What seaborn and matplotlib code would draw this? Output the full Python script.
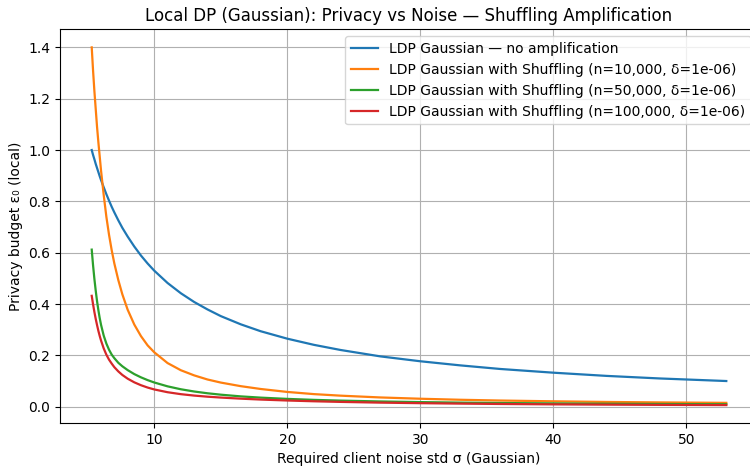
import matplotlib
matplotlib.use("Agg")
import matplotlib.pyplot as plt
import seaborn as sns
import pandas as pd

# Client noise std (shared grid for all curves)
sigma = [5.3, 5.4, 5.5, 5.6, 5.7, 5.8, 5.9, 6.0, 6.2, 6.4, 6.6, 6.8, 7.0, 7.3, 7.6,
         8.0, 8.5, 9.0, 9.5, 10.0, 11.0, 12.0, 13.0, 14.0, 15.0, 16.5, 18.0, 20.0,
         22.0, 24.0, 27.0, 30.0, 33.0, 36.0, 40.0, 44.0, 48.0, 53.0]

# Local epsilon, no amplification
eps_plain = [1.0, 0.981, 0.964, 0.946, 0.930, 0.914, 0.898, 0.883, 0.855, 0.828, 0.803,
             0.779, 0.757, 0.726, 0.697, 0.663, 0.624, 0.589, 0.558, 0.530, 0.482, 0.442,
             0.408, 0.379, 0.353, 0.321, 0.294, 0.265, 0.241, 0.221, 0.196, 0.177, 0.161,
             0.147, 0.1325, 0.120, 0.110, 0.100]

# With shuffling, n = 10,000
eps_n10k = [1.40, 1.31, 1.23, 1.16, 1.09, 1.03, 0.975, 0.92, 0.825, 0.74, 0.67, 0.61,
            0.558, 0.493, 0.438, 0.378, 0.320, 0.275, 0.239, 0.212, 0.170, 0.142, 0.122,
            0.106, 0.094, 0.080, 0.069, 0.0575, 0.049, 0.043, 0.036, 0.031, 0.027, 0.024,
            0.021, 0.0185, 0.0167, 0.015]

# With shuffling, n = 50,000
eps_n50k = [0.612, 0.551, 0.498, 0.452, 0.411, 0.376, 0.345, 0.319, 0.277, 0.246, 0.222,
            0.203, 0.189, 0.171, 0.1575, 0.1426, 0.127, 0.1144, 0.1036, 0.0943, 0.0793,
            0.0679, 0.0592, 0.0523, 0.0468, 0.0402, 0.0353, 0.0304, 0.0266, 0.0237,
            0.0204, 0.0179, 0.0159, 0.0144, 0.0128, 0.0115, 0.0105, 0.0095]

# With shuffling, n = 100,000
eps_n100k = [0.432, 0.399, 0.369, 0.342, 0.318, 0.2955, 0.2756, 0.2577, 0.2272, 0.2027,
             0.1834, 0.168, 0.154, 0.1374, 0.1237, 0.1092, 0.0949, 0.0837, 0.0746, 0.0672,
             0.0564, 0.0488, 0.0433, 0.0390, 0.0356, 0.0313, 0.0278, 0.0241, 0.0211,
             0.0187, 0.0158, 0.0137, 0.0120, 0.0106, 0.0091, 0.0080, 0.0071, 0.0062]

labels = [
    "LDP Gaussian \u2014 no amplification",
    "LDP Gaussian with Shuffling (n=10,000, \u03b4=1e-06)",
    "LDP Gaussian with Shuffling (n=50,000, \u03b4=1e-06)",
    "LDP Gaussian with Shuffling (n=100,000, \u03b4=1e-06)",
]
series = [eps_plain, eps_n10k, eps_n50k, eps_n100k]
colors = ["#1f77b4", "#ff7f0e", "#2ca02c", "#d62728"]

plt.rcParams["font.family"] = ["DejaVu Sans"]

fig = plt.figure(figsize=(7.5, 4.66), dpi=100)
ax = fig.add_axes([0.08, 0.0923, 0.9307, 0.8444])

for vals, lab, col in zip(series, labels, colors):
    df = pd.DataFrame({"sigma": sigma, "eps": vals})
    sns.lineplot(data=df, x="sigma", y="eps", ax=ax, color=col, label=lab,
                 linewidth=1.6)

ax.set_title("Local DP (Gaussian): Privacy vs Noise \u2014 Shuffling Amplification",
             fontsize=12)
ax.set_xlabel("Required client noise std \u03c3 (Gaussian)", fontsize=10)
ax.set_ylabel("Privacy budget \u03b5\u2080 (local)", fontsize=10)
ax.grid(True, color="#b0b0b0", linewidth=0.8)
ax.tick_params(labelsize=10)
ax.legend(loc="upper right", fontsize=10)

fig.savefig("out.png", dpi=100)
